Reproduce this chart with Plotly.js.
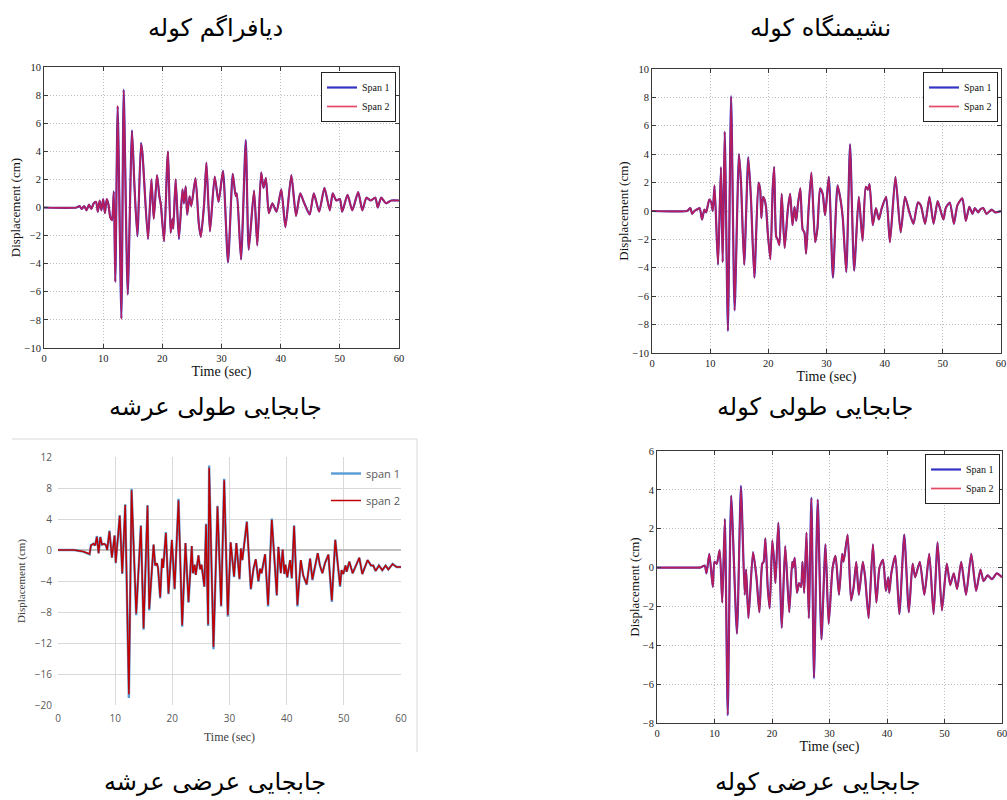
<!DOCTYPE html>
<html>
<head>
<meta charset="utf-8">
<script src="https://cdn.plot.ly/plotly-3.0.1.min.js"></script>
<style>html,body{margin:0;padding:0;background:#fff;}#chart{width:1007px;height:800px;}</style>
</head>
<body>
<div id="chart"></div>
<script>
// ---------- Titles ----------
const titleTL = "دیافراگم کوله";
const titleTR = "نشیمنگاه کوله";
const captionML = "جابجایی طولی عرشه";
const captionMR = "جابجایی طولی کوله";
const captionBL = "جابجایی عرضی عرشه";
const captionBR = "جابجایی عرضی کوله";
const xTitle = "Time (sec)";
const yTitle = "Displacement (cm)";
const seriesNamesMatlab = ["Span 1", "Span 2"];
const seriesNamesExcel = ["span 1", "span 2"];

// ---------- Top-left: abutment diaphragm ----------
const diaTime = [0, 5.5, 6.0, 6.4, 6.8, 7.2, 7.6, 8.0, 8.4, 8.8,
  9.1, 9.4, 9.7, 10.0, 10.3, 10.6, 10.9, 11.2, 11.5, 11.8,
  12.05, 12.45, 13.08, 13.47, 14.15, 14.87, 15.28, 15.78, 16.4, 16.65,
  17.58, 18.15, 18.55, 19.1, 19.5, 19.75, 20.3, 20.8, 20.96, 21.4,
  21.7, 21.85, 22.25, 22.8, 23.4, 23.65, 23.95, 24.2, 24.6, 24.9,
  25.6, 26.15, 26.5, 27.05, 27.45, 28.05, 28.85, 29.5, 30.25, 31.1,
  31.9, 32.4, 32.6, 33.3, 34.1, 34.6, 35.5, 36.05, 36.7, 37.1,
  37.5, 38.0, 38.6, 39.3, 40.1, 40.8, 41.8, 42.6, 43.3, 44.0,
  44.9, 45.6, 46.5, 47.4, 48.3, 48.8, 49.4, 50.0, 50.4, 51.3,
  52.1, 53.1, 53.8, 54.5, 55.2, 56.0, 56.4, 57.0, 57.8, 58.7,
  60];
const diaSpan1 = [0, 0, 0.1, -0.1, 0.1, -0.2, 0.2, -0.1, 0.3, 0.4,
  -0.3, 0.5, -0.2, 0.6, -0.4, 0.6, 0.2, -0.7, -0.9, 1.15,
  -5.3, 7.2, -7.9, 8.4, -6.2, 5.5, 1.6, -2.05, 4.6, 3.8,
  -2.25, 2.0, -0.8, 2.3, 0.8, 0.2, -2.4, 3.0, 4.0, -1.8,
  -0.8, -1.5, 2.0, -2.25, 1.3, 0.3, 1.5, -0.5, 0.8, 0.1,
  2.1, -1.1, -2.1, 0.2, 3.2, -1.7, 2.2, 0.4, 2.6, -3.9,
  2.4, 0.8, 1.0, -3.7, 4.8, -3.0, 1.2, -2.7, 2.5, 1.4,
  2.1, -0.4, 0.3, -0.3, 1.3, -1.4, 2.3, -0.6, 1.0, 0.3,
  -0.5, 1.0, -0.3, 1.4, -0.2, 1.0, 0.5, 0.6, -0.3, 0.9,
  -0.2, 1.1, -0.2, 0.7, 0.5, 0.7, 0.0, 0.7, 0.3, 0.5,
  0.5];
const diaSpan2 = [0, 0, 0.1, -0.1, 0.1, -0.2, 0.2, -0.1, 0.3, 0.4,
  -0.3, 0.5, -0.2, 0.6, -0.4, 0.6, 0.2, -0.7, -0.9, 1.1,
  -5.3, 7.25, -7.95, 8.35, -6.2, 5.45, 1.6, -2.0, 4.55, 3.8,
  -2.25, 2.0, -0.8, 2.3, 0.8, 0.2, -2.4, 3.0, 4.0, -1.8,
  -0.8, -1.5, 2.0, -2.2, 1.3, 0.3, 1.5, -0.5, 0.8, 0.1,
  2.1, -1.1, -2.1, 0.2, 3.2, -1.7, 2.2, 0.4, 2.6, -3.9,
  2.4, 0.8, 1.0, -3.7, 4.75, -3.0, 1.2, -2.7, 2.5, 1.4,
  2.1, -0.4, 0.3, -0.3, 1.3, -1.4, 2.3, -0.6, 1.0, 0.3,
  -0.5, 1.0, -0.3, 1.4, -0.2, 1.0, 0.5, 0.6, -0.3, 0.9,
  -0.2, 1.1, -0.2, 0.7, 0.5, 0.7, 0.0, 0.7, 0.3, 0.5,
  0.5];

// ---------- Top-right: abutment seat ----------
const seatTime = [0, 6.0, 6.3, 6.6, 6.9, 7.3, 7.7, 8.2, 8.6, 9.0,
  9.3, 9.85, 10.2, 10.45, 10.75, 11.35, 11.85, 12.15, 12.5, 13.05,
  13.6, 14.2, 14.95, 15.3, 15.85, 16.55, 17.0, 17.6, 18.3, 18.6,
  18.8, 19.1, 19.35, 19.6, 19.9, 20.35, 20.75, 21.0, 21.35, 21.6,
  21.9, 22.3, 22.8, 23.35, 23.75, 24.15, 24.5, 24.8, 25.1, 25.5,
  25.9, 26.2, 26.5, 26.9, 27.4, 28.05, 28.45, 28.9, 29.35, 29.75,
  30.4, 31.1, 31.9, 32.45, 32.8, 33.4, 34.05, 34.75, 35.55, 36.2,
  36.75, 37.1, 37.4, 37.95, 38.5, 39.0, 39.5, 40.25, 40.9, 41.85,
  42.75, 43.5, 44.25, 44.95, 45.7, 46.2, 46.95, 47.7, 48.4, 49.1,
  49.5, 50.1, 50.5, 51.2, 51.9, 52.5, 53.35, 53.95, 54.55, 55.1,
  55.5, 56.1, 56.4, 56.95, 57.5, 58.4, 59.0, 60];
const seatSpan1 = [0, 0, 0.1, 0.2, -0.2, 0.0, 0.1, 0.2, -0.6, 0.1,
  -0.1, 0.8, 0.6, 0.0, 1.8, -3.8, 3.1, -3.6, 5.6, -8.45,
  8.1, -7.0, 4.0, 2.0, -3.8, 3.8, 1.0, -4.7, 2.0, 1.5,
  -0.5, 1.0, 0.8, 0.3, -1.5, -3.4, 1.6, 3.1, -1.8, -2.0,
  -2.4, 1.2, -2.6, 0.1, 1.2, -1.0, 0.3, -0.7, 0.5, 1.6,
  -1.3, -1.5, -3.0, 0.0, 2.7, -2.2, -1.2, 1.6, 1.2, -0.3,
  2.4, -4.7, 1.8, 0.7, -0.5, -4.3, 4.7, -4.2, 1.0, -2.1,
  1.7, 1.5, 1.9, -1.0, 0.2, -0.6, 0.2, 1.0, -2.2, 2.4,
  -1.5, 1.0, -0.1, -0.9, 0.6, 0.4, -0.9, 1.0, -0.9, 0.7,
  0.2, -0.6, 0.2, 0.6, -0.9, 0.4, 0.9, -0.7, 0.3, -0.2,
  0.2, -0.1, 0.1, 0.2, -0.2, 0.1, -0.1, 0];
const seatSpan2 = [0, 0, 0.1, 0.2, -0.2, 0.0, 0.1, 0.2, -0.6, 0.1,
  -0.1, 0.8, 0.6, 0.0, 1.8, -3.75, 3.1, -3.6, 5.6, -8.4,
  8.05, -7.0, 4.0, 2.0, -3.8, 3.75, 1.0, -4.7, 2.0, 1.5,
  -0.5, 1.0, 0.8, 0.3, -1.5, -3.4, 1.6, 3.1, -1.8, -2.0,
  -2.4, 1.2, -2.6, 0.1, 1.2, -1.0, 0.3, -0.7, 0.5, 1.6,
  -1.3, -1.5, -3.0, 0.0, 2.7, -2.2, -1.2, 1.6, 1.2, -0.3,
  2.4, -4.65, 1.8, 0.7, -0.5, -4.3, 4.7, -4.2, 1.0, -2.1,
  1.7, 1.5, 1.9, -1.0, 0.2, -0.6, 0.2, 1.0, -2.2, 2.4,
  -1.5, 1.0, -0.1, -0.9, 0.6, 0.4, -0.9, 1.0, -0.9, 0.7,
  0.2, -0.6, 0.2, 0.6, -0.9, 0.4, 0.9, -0.7, 0.3, -0.2,
  0.2, -0.1, 0.1, 0.2, -0.2, 0.1, -0.1, 0];

// ---------- Bottom-left: deck transverse (Excel style) ----------
const deckTime = [0, 2.8, 4.4, 5.53, 5.76, 6.2, 6.5, 6.8, 7.1, 7.4,
  7.7, 8.1, 8.4, 8.6, 9.0, 9.43, 9.9, 10.1, 10.8, 11.24,
  11.76, 12.4, 12.87, 13.68, 14.5, 14.97, 15.66, 15.96, 16.72, 17.0,
  17.3, 17.5, 17.88, 18.2, 18.4, 18.87, 19.33, 19.92, 20.4, 21.08,
  21.72, 22.3, 22.83, 23.4, 23.6, 23.9, 24.1, 24.57, 24.86, 25.1,
  25.6, 25.9, 26.26, 26.44, 27.2, 27.9, 28.54, 29.07, 29.7, 30.2,
  30.8, 31.2, 31.74, 32.0, 32.25, 33.03, 33.73, 34.2, 34.6, 35.06,
  35.35, 35.6, 36.23, 36.75, 37.4, 38.27, 38.55, 38.98, 39.3, 39.6,
  39.8, 40.1, 40.6, 40.9, 41.3, 41.88, 42.47, 42.9, 43.5, 44.1,
  44.5, 45.44, 45.8, 46.25, 46.7, 47.3, 47.9, 48.5, 49.34, 49.6,
  49.9, 50.3, 50.5, 50.96, 51.54, 52.71, 53.23, 54.16, 54.75, 55.15,
  55.56, 56.14, 56.73, 57.31, 57.78, 58.53, 59.23, 60];
const deckSpan1 = [0, 0, -0.2, -0.55, 0.6, 0.8, 0.6, 1.8, -0.45, 1.7,
  0.7, 0.8, 0.6, 0.0, 2.5, -1.0, 1.9, -1.7, 4.5, -3.1,
  5.9, -19.1, 7.9, -8.4, 3.2, -10.3, 5.8, -7.8, 0.7, -2.0,
  -1.7, -2.3, -6.25, -1.1, -2.3, 2.3, -5.7, 1.3, -5.1, 6.6,
  -9.9, 0.9, -6.8, 0.5, -3.0, -1.9, -3.2, -0.7, -2.5, -1.9,
  -4.75, 3.4, -9.8, 10.9, -12.8, 5.7, -7.3, 9.2, -8.6, 1.0,
  -3.5, 0.9, -3.8, 0.2, -1.3, 3.7, -5.1, -2.4, -1.2, -4.1,
  -2.4, -3.0, -0.55, -7.3, 4.05, -5.9, 0.4, -3.0, 0.05, -3.1,
  -1.9, -3.6, -1.3, -3.7, 3.2, -7.3, -1.3, -3.3, -4.5, -1.1,
  -3.9, -0.4, -1.95, -3.0, -1.7, -0.6, -6.7, 1.35, -4.75, -2.6,
  -3.1, -2.0, -2.8, -1.5, -3.0, -1.0, -3.1, -1.3, -2.0, -2.0,
  -2.7, -2.0, -2.6, -2.0, -2.5, -1.8, -2.2, -2.2];
const deckSpan2 = [0, 0, -0.2, -0.5, 0.6, 0.8, 0.6, 1.7, -0.4, 1.65,
  0.7, 0.8, 0.6, 0.0, 2.4, -0.95, 1.85, -1.65, 4.4, -3.0,
  5.8, -18.6, 7.7, -8.2, 3.1, -10.1, 5.7, -7.6, 0.7, -2.0,
  -1.7, -2.3, -6.1, -1.1, -2.3, 2.2, -5.6, 1.3, -5.0, 6.4,
  -9.7, 0.9, -6.7, 0.5, -3.0, -1.9, -3.2, -0.7, -2.5, -1.9,
  -4.7, 3.3, -9.6, 10.6, -12.5, 5.6, -7.2, 9.0, -8.4, 1.0,
  -3.4, 0.9, -3.7, 0.2, -1.3, 3.6, -5.0, -2.4, -1.2, -4.0,
  -2.4, -3.0, -0.55, -7.1, 3.9, -5.8, 0.4, -3.0, 0.05, -3.1,
  -1.9, -3.5, -1.3, -3.6, 3.1, -7.1, -1.3, -3.3, -4.4, -1.1,
  -3.8, -0.4, -1.95, -3.0, -1.7, -0.6, -6.5, 1.3, -4.6, -2.6,
  -3.1, -2.0, -2.8, -1.5, -3.0, -1.0, -3.1, -1.3, -2.0, -2.0,
  -2.7, -2.0, -2.6, -2.0, -2.5, -1.8, -2.2, -2.2];

// ---------- Bottom-right: abutment transverse ----------
const abutTime = [0, 5.8, 7.5, 8.3, 8.6, 9.1, 9.7, 10.0, 10.4, 10.9,
  11.35, 11.8, 12.3, 12.9, 13.9, 14.6, 15.25, 15.5, 15.9, 16.7,
  17.3, 17.8, 18.3, 18.55, 18.85, 19.25, 19.6, 20.05, 20.4, 20.6,
  21.1, 21.7, 22.3, 23.0, 23.5, 23.65, 23.95, 24.35, 24.7, 25.05,
  25.3, 25.6, 26.0, 26.4, 26.85, 27.3, 27.95, 28.6, 29.3, 29.85,
  30.55, 31.05, 31.65, 32.2, 32.45, 33.15, 33.75, 34.2, 34.65, 35.1,
  35.8, 36.2, 36.8, 37.55, 38.15, 38.7, 39.3, 39.8, 40.2, 40.4,
  40.75, 41.45, 42.15, 43.0, 43.8, 44.45, 44.9, 45.7, 46.5, 47.35,
  48.1, 48.8, 49.55, 50.4, 51.0, 51.6, 52.2, 52.9, 53.75, 54.65,
  55.5, 56.25, 56.8, 57.5, 58.25, 59.1, 60];
const abutSpan1 = [0, 0, 0, 0.1, -0.3, 0.7, -1.0, 0.3, 0.2, 0.9,
  -1.8, 2.5, -7.6, 3.7, -3.4, 4.2, -1.4, -0.1, -2.6, 0.8,
  -0.5, -2.3, 0.2, 0.3, 1.5, -1.0, -2.1, 1.4, 0.2, -0.8,
  2.3, -3.1, 1.1, -2.3, 0.3, 0.0, 0.5, -1.3, -0.8, -1.0,
  0.3, -1.3, 1.8, -2.6, 3.6, -5.7, 3.5, -3.7, 1.2, -2.9,
  0.0, 0.6, -1.4, 0.7, 0.3, 1.7, -1.7, -1.0, 0.3, -1.4,
  0.3, -0.5, -2.6, 1.2, -1.8, 0.0, 0.4, -1.2, -0.5, -1.3,
  -0.3, 0.6, -2.4, 1.7, -2.3, 0.2, -0.5, 0.3, -1.4, 0.7,
  -2.4, 1.3, -2.2, 0.2, -0.9, -0.3, -1.1, 0.3, -1.4, 0.7,
  -1.2, -0.1, -0.7, -0.4, -0.6, -0.3, -0.5];
const abutSpan2 = [0, 0, 0, 0.1, -0.3, 0.7, -1.0, 0.3, 0.2, 0.9,
  -1.8, 2.5, -7.55, 3.7, -3.4, 4.15, -1.4, -0.1, -2.6, 0.8,
  -0.5, -2.3, 0.2, 0.3, 1.5, -1.0, -2.1, 1.4, 0.2, -0.8,
  2.3, -3.1, 1.1, -2.3, 0.3, 0.0, 0.5, -1.3, -0.8, -1.0,
  0.3, -1.3, 1.8, -2.6, 3.55, -5.65, 3.5, -3.7, 1.2, -2.9,
  0.0, 0.6, -1.4, 0.7, 0.3, 1.7, -1.7, -1.0, 0.3, -1.4,
  0.3, -0.5, -2.6, 1.2, -1.8, 0.0, 0.4, -1.2, -0.5, -1.3,
  -0.3, 0.6, -2.4, 1.7, -2.3, 0.2, -0.5, 0.3, -1.4, 0.7,
  -2.4, 1.3, -2.2, 0.2, -0.9, -0.3, -1.1, 0.3, -1.4, 0.7,
  -1.2, -0.1, -0.7, -0.4, -0.6, -0.3, -0.5];

// ---------- Layout helpers ----------
const W = 1007, H = 800;
const fx = p => p / W;
const fy = p => 1 - p / H;
const serif = "Liberation Serif, Times New Roman, serif";
const persian = "DejaVu Sans, sans-serif";
const matBlue = "#3434c4";
const matRed = "rgba(222,22,60,0.78)";

function matlabX(anchor, l, r) {
  return {
    anchor: anchor, domain: [fx(l), fx(r)], range: [0, 60], dtick: 10, tick0: 0,
    showline: true, linecolor: "#3a3a3a", linewidth: 1, mirror: "ticks",
    ticks: "inside", ticklen: 4, tickcolor: "#3a3a3a",
    showgrid: true, gridcolor: "#bdbdbd", griddash: "1px,2px", gridwidth: 1,
    zeroline: false, fixedrange: true, ticklabeloverflow: "allow",
    tickfont: {family: serif, size: 10.5, color: "#222"},
    title: {text: xTitle, font: {family: serif, size: 14, color: "#111"}, standoff: 0}
  };
}
function matlabY(anchor, t, b, range, dtick) {
  return {
    anchor: anchor, domain: [fy(b), fy(t)], range: range, dtick: dtick,
    showline: true, linecolor: "#3a3a3a", linewidth: 1, mirror: "ticks",
    ticks: "inside", ticklen: 4, tickcolor: "#3a3a3a",
    showgrid: true, gridcolor: "#bdbdbd", griddash: "1px,2px", gridwidth: 1,
    zeroline: false, fixedrange: true, ticklabeloverflow: "allow",
    tickfont: {family: serif, size: 10.5, color: "#222"},
    title: {text: yTitle, font: {family: serif, size: 13, color: "#111"}, standoff: 0}
  };
}
function matLegend(rightPx, topPx) {
  return {
    x: fx(rightPx), y: fy(topPx), xanchor: "right", yanchor: "top",
    bgcolor: "#ffffff", bordercolor: "#222", borderwidth: 1,
    font: {family: serif, size: 10, color: "#111"},
    itemwidth: 30, tracegroupgap: 0
  };
}
function matTraces(x, y1, y2, xa, ya, leg) {
  return [
    {x: x, y: y1, name: seriesNamesMatlab[0], type: "scatter", mode: "lines",
     xaxis: xa, yaxis: ya, legend: leg,
     line: {color: matBlue, width: 2.2, shape: "spline", smoothing: 0.6}},
    {x: x, y: y2, name: seriesNamesMatlab[1], type: "scatter", mode: "lines",
     xaxis: xa, yaxis: ya, legend: leg,
     line: {color: matRed, width: 1.7, shape: "spline", smoothing: 0.6}}
  ];
}

const data = [].concat(
  matTraces(diaTime, diaSpan1, diaSpan2, "x", "y", "legend"),
  matTraces(seatTime, seatSpan1, seatSpan2, "x2", "y2", "legend2"),
  [
    {x: deckTime, y: deckSpan1, name: seriesNamesExcel[0], type: "scatter", mode: "lines",
     xaxis: "x3", yaxis: "y3", legend: "legend3", legendgroup: "a",
     line: {color: "#5b9bd5", width: 2.4}},
    {x: deckTime, y: deckSpan2, name: seriesNamesExcel[1], type: "scatter", mode: "lines",
     xaxis: "x3", yaxis: "y3", legend: "legend3", legendgroup: "b",
     line: {color: "#c00000", width: 1.5}}
  ],
  matTraces(abutTime, abutSpan1, abutSpan2, "x4", "y4", "legend4")
);

const excelTick = {family: "Open Sans, Liberation Sans, sans-serif", size: 10, color: "#595959"};

function caption(text, xp, yp) {
  return {text: text, x: fx(xp), y: fy(yp), xref: "paper", yref: "paper",
          xanchor: "center", yanchor: "middle", showarrow: false,
          font: {family: persian, size: 24, color: "#000"}};
}

const layout = {
  width: W, height: H,
  margin: {l: 0, r: 0, t: 0, b: 0},
  paper_bgcolor: "#ffffff", plot_bgcolor: "#ffffff",
  showlegend: true,
  xaxis: matlabX("y", 44, 399),
  yaxis: matlabY("x", 67, 348, [-10, 10], 2),
  xaxis2: matlabX("y2", 652, 1001),
  yaxis2: matlabY("x2", 69, 353, [-10, 10], 2),
  xaxis3: {
    anchor: "y3", domain: [fx(58), fx(401)], range: [0, 60], dtick: 10,
    showline: false, ticks: "", showgrid: true, gridcolor: "#d9d9d9", gridwidth: 1,
    zeroline: false, fixedrange: true, tickfont: excelTick, ticklabelstandoff: 6,
    title: {text: xTitle, font: {family: serif, size: 12, color: "#404040"}, standoff: 8}
  },
  yaxis3: {
    anchor: "x3", domain: [fy(705), fy(457)], range: [-20, 12], dtick: 4,
    showline: false, ticks: "", showgrid: true, gridcolor: "#d9d9d9", gridwidth: 1,
    zeroline: true, zerolinecolor: "#bfbfbf", zerolinewidth: 1.2, fixedrange: true,
    tickfont: excelTick, ticklabelstandoff: 5,
    title: {text: yTitle, font: {family: serif, size: 11, color: "#404040"}, standoff: 6}
  },
  xaxis4: matlabX("y4", 657, 1002),
  yaxis4: matlabY("x4", 451, 723, [-8, 6], 2),
  legend: matLegend(396, 72),
  legend2: matLegend(998, 72),
  legend4: matLegend(1000, 454),
  legend3: {
    x: fx(326), y: fy(459), xanchor: "left", yanchor: "top",
    bgcolor: "rgba(0,0,0,0)", borderwidth: 0,
    font: {family: "Open Sans, Liberation Sans, sans-serif", size: 11, color: "#595959"},
    itemwidth: 30, tracegroupgap: 8
  },
  shapes: [
    {type: "line", xref: "paper", yref: "paper", x0: fx(12), x1: fx(417), y0: fy(439), y1: fy(439),
     line: {color: "#d9d9d9", width: 1}},
    {type: "line", xref: "paper", yref: "paper", x0: fx(417), x1: fx(417), y0: fy(439), y1: fy(752),
     line: {color: "#d9d9d9", width: 1}}
  ],
  annotations: [
    caption(titleTL, 215, 28),
    caption(titleTR, 820, 28),
    caption(captionML, 215, 407),
    caption(captionMR, 815, 407),
    caption(captionBL, 215, 782),
    caption(captionBR, 818, 782)
  ]
};

Plotly.newPlot("chart", data, layout, {displayModeBar: false, staticPlot: true});
</script>
</body>
</html>
